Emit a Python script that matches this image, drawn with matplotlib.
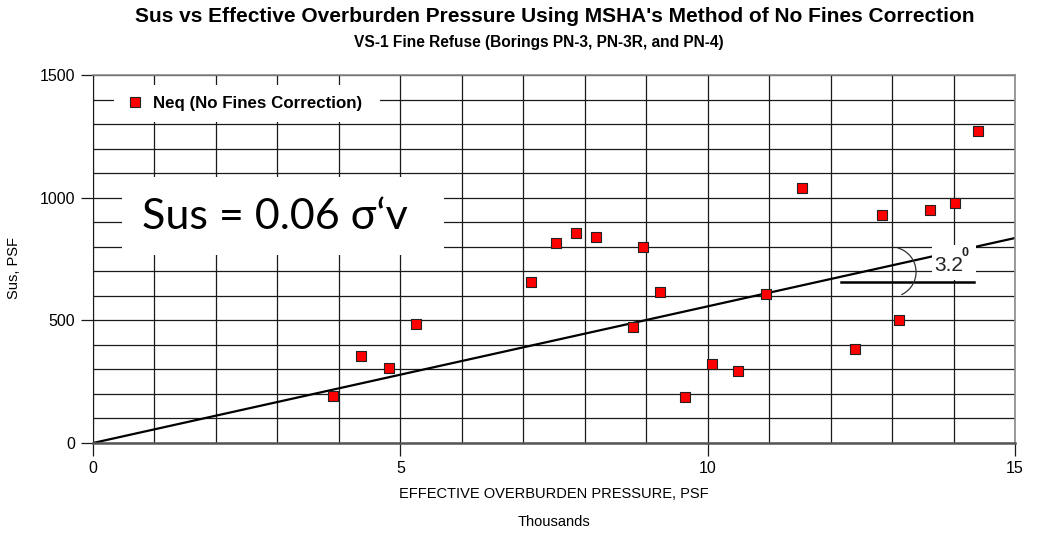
import matplotlib
matplotlib.use("Agg")
import matplotlib.pyplot as plt
import numpy as np
from matplotlib.patches import Rectangle
from matplotlib.lines import Line2D

# effective overburden pressure (thousands psf) and Sus (psf)
pressure_k = [3.90, 4.36, 4.82, 5.25, 7.13, 7.53, 7.86, 8.19, 8.95, 9.23, 8.78,
              9.63, 10.07, 10.50, 10.95, 11.54, 12.39, 12.84, 13.12, 13.62, 14.02, 14.40]
sus_psf = [190, 355, 305, 485, 655, 817, 856, 840, 798, 614, 474,
           186, 323, 293, 607, 1038, 383, 931, 501, 949, 978, 1271]

# Sus = 0.06 sigma'v fit line (3.2 degree slope on the chart)
fit_x = [0, 15]
fit_slope = 55.7  # psf per thousand psf
fit_y = [fit_slope * v for v in fit_x]

x_ticks = [0, 5, 10, 15]
y_ticks = [0, 500, 1000, 1500]

plain = ["Liberation Sans", "DejaVu Sans"]

fig = plt.figure(figsize=(10.41, 5.35), dpi=100)
ax = fig.add_axes([93 / 1041, 92 / 535, 922 / 1041, 368 / 535])

ax.set_xlim(0, 15)
ax.set_ylim(0, 1500)
ax.set_xticks(x_ticks)
ax.set_yticks(y_ticks)
ax.set_xticks(range(0, 16), minor=True)
ax.set_yticks(range(0, 1501, 100), minor=True)
ax.grid(True, which="both", color="#1a1a1a", linewidth=0.9)
ax.set_axisbelow(True)
ax.tick_params(which="minor", length=0)
ax.tick_params(which="major", length=9, width=0.9, color="#1a1a1a", pad=4)
ax.set_xticklabels([str(t) for t in x_ticks], family=plain, fontsize=11.5)
ax.set_yticklabels([str(t) for t in y_ticks], family=plain, fontsize=11.5)

for side in ["top", "right"]:
    ax.spines[side].set_color("#8a8a8a")
    ax.spines[side].set_linewidth(1.2)
ax.spines["left"].set_color("#1a1a1a")
ax.spines["bottom"].set_color("#555555")
ax.spines["bottom"].set_linewidth(1.8)

# white boxes that cut the grid, as in the source image
ax.add_patch(Rectangle((0.0228, 0.872), 0.288, 0.101, transform=ax.transAxes,
                       facecolor="white", edgecolor="none", zorder=1))
ax.add_patch(Rectangle((0.0315, 0.511), 0.349, 0.212, transform=ax.transAxes,
                       facecolor="white", edgecolor="none", zorder=1))

ax.plot(fit_x, fit_y, color="black", linewidth=1.6, zorder=2)

ax.add_patch(Rectangle((0.910, 0.443), 0.048, 0.095, transform=ax.transAxes,
                       facecolor="white", edgecolor="none", zorder=2.5))

# angle annotation: horizontal reference and a bracket arc
ax.plot([12.17, 14.33], [656, 656], color="black", linewidth=1.8, zorder=2.6)
t = np.radians(np.linspace(-64, 73, 40))
ax.plot(12.98 + 0.41 * np.cos(t), 697 + 102 * np.sin(t), color="#333333",
        linewidth=0.9, zorder=2.6)
ax.text(0.928, 0.481, "3.2", transform=ax.transAxes, ha="center", va="center",
        fontsize=15, family=plain, color="#222222", zorder=3)
ax.text(0.946, 0.515, "0", transform=ax.transAxes, ha="center", va="center",
        fontsize=9, family=plain, fontweight="bold", color="#222222", zorder=3)

ax.scatter(pressure_k, sus_psf, marker="s", s=62, facecolor="#ff0000",
           edgecolor="#222222", linewidth=0.8, zorder=4, clip_on=False)

handle = Line2D([], [], marker="s", linestyle="none", markersize=7,
                markerfacecolor="#ff0000", markeredgecolor="#222222", markeredgewidth=0.8)
leg = ax.legend([handle], ["Neq (No Fines Correction)"], loc="center left",
                bbox_to_anchor=(0.035, 0.922), frameon=False, handletextpad=0.45,
                handlelength=1.2, borderaxespad=0, borderpad=0,
                prop={"family": plain, "weight": "bold", "size": 12.2})
leg.set_zorder(5)

ax.text(0.197, 0.614, "Sus = 0.06 σ\u2018v", transform=ax.transAxes, ha="center",
        va="center", fontsize=31, family=["Lato", "Open Sans", "DejaVu Sans"], zorder=5)

ax.set_xlabel("EFFECTIVE OVERBURDEN PRESSURE, PSF", family=plain, fontsize=10.5)
ax.xaxis.set_label_coords(0.5, -(487 - 443) / 368)
ax.set_ylabel("Sus, PSF", family=plain, fontsize=10.5)
ax.yaxis.set_label_coords(-(93 - 21) / 922, (443 - 268) / 368)
fig.text(554 / 1041, 1 - 522 / 535, "Thousands", family=plain,
         fontsize=10.5, ha="center", va="center")

fig.text(555 / 1041, 1 - 17 / 535,
         "Sus vs Effective Overburden Pressure Using MSHA's Method of No Fines Correction",
         family=plain, fontweight="bold", fontsize=15, ha="center", va="center")
fig.text(539 / 1041, 1 - 42 / 535, "VS-1 Fine Refuse (Borings PN-3, PN-3R, and PN-4)",
         family=plain, fontweight="bold", fontsize=11.2, ha="center", va="center")

fig.savefig("out.png", dpi=100)
